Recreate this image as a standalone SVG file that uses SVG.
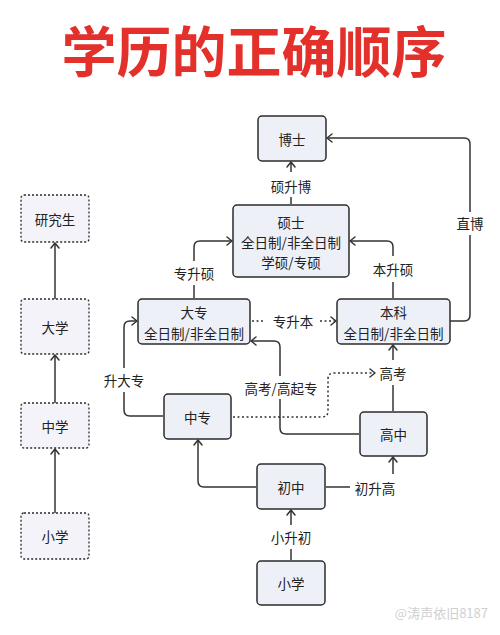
<svg xmlns="http://www.w3.org/2000/svg" width="500" height="635" viewBox="0 0 500 635">
<defs>
<marker id="arr" markerUnits="userSpaceOnUse" markerWidth="12" markerHeight="12" refX="7" refY="6" orient="auto">
<path d="M2,2 L7,6 L2,10" fill="none" stroke="#333" stroke-width="1.5" stroke-linecap="round" stroke-linejoin="round"/>
</marker>
<style>
.t{font-family:"Noto Sans CJK SC","Noto Sans",sans-serif;font-size:13.5px;fill:#222;text-anchor:middle;dominant-baseline:central}
.n{fill:#eef0f8;stroke:#2b2b2b;stroke-width:1.5}
.d{fill:#f3f3f9;stroke:#2b2b2b;stroke-width:1.3;stroke-dasharray:2 2}
.c{fill:none;stroke:#333;stroke-width:1.5}
.dot{fill:none;stroke:#333;stroke-width:1.5;stroke-dasharray:2 2.5}
</style>
</defs>
<rect width="500" height="635" fill="#fff"/>
<text x="254" y="48" font-family="'Noto Sans CJK SC',sans-serif" font-size="55" font-weight="bold" fill="#e3302a" text-anchor="middle" dominant-baseline="central">学历的正确顺序</text>

<g id="n-yjs"><rect class="d" x="21" y="195" width="68" height="47" rx="3"/><text class="t" x="55" y="218.5">研究生</text></g>
<g id="n-dx"><rect class="d" x="21" y="299" width="68" height="55" rx="3"/><text class="t" x="55" y="326.5">大学</text></g>
<g id="n-zx"><rect class="d" x="21" y="403" width="68" height="45" rx="3"/><text class="t" x="55" y="425.5">中学</text></g>
<g id="n-xx-l"><rect class="d" x="21" y="513" width="68" height="46" rx="3"/><text class="t" x="55" y="536">小学</text></g>

<g id="n-bs"><rect class="n" x="258" y="116" width="68" height="45" rx="4"/><text class="t" x="292" y="138.5">博士</text></g>
<g id="n-ss"><rect class="n" x="233" y="205" width="116" height="72" rx="4"/><text class="t" x="291" y="222">硕士</text><text class="t" x="291" y="242">全日制/非全日制</text><text class="t" x="291" y="262">学硕/专硕</text></g>
<g id="n-dz"><rect class="n" x="138" y="299" width="112" height="45" rx="4"/><text class="t" x="194" y="312">大专</text><text class="t" x="194" y="333">全日制/非全日制</text></g>
<g id="n-bk"><rect class="n" x="337" y="299" width="113" height="45" rx="4"/><text class="t" x="393.5" y="312">本科</text><text class="t" x="393.5" y="333">全日制/非全日制</text></g>
<g id="n-zz"><rect class="n" x="164" y="394" width="67" height="45" rx="4"/><text class="t" x="197.5" y="416.5">中专</text></g>
<g id="n-gz"><rect class="n" x="360" y="412" width="67" height="44" rx="4"/><text class="t" x="393.5" y="434">高中</text></g>
<g id="n-cz"><rect class="n" x="257" y="464" width="68" height="45" rx="4"/><text class="t" x="291" y="486.5">初中</text></g>
<g id="n-xx"><rect class="n" x="257" y="561" width="68" height="44" rx="4"/><text class="t" x="291" y="583">小学</text></g>

<g id="connectors">
<path class="c" d="M55,299 V243" marker-end="url(#arr)"/>
<path class="c" d="M55,403 V355" marker-end="url(#arr)"/>
<path class="c" d="M55,513 V449" marker-end="url(#arr)"/>

<path class="c" d="M291,204 V197"/>
<path class="c" d="M291,172 V162" marker-end="url(#arr)"/>
<text class="t" x="291" y="185.5">硕升博</text>

<path class="c" d="M450,321 H464 Q470,321 470,315 V235"/>
<path class="c" d="M470,212 V144 Q470,138 464,138 H327" marker-end="url(#arr)"/>
<text class="t" x="470" y="223">直博</text>

<path class="c" d="M393,298 V282"/>
<path class="c" d="M393,256 V247 Q393,241 387,241 H350" marker-end="url(#arr)"/>
<text class="t" x="393" y="269">本升硕</text>

<path class="c" d="M194,298 V285"/>
<path class="c" d="M194,261 V247 Q194,241 200,241 H232" marker-end="url(#arr)"/>
<text class="t" x="194" y="273">专升硕</text>

<path class="dot" d="M252,321 H265"/>
<path class="dot" d="M320,321 H336" marker-end="url(#arr)"/>
<text class="t" x="293" y="321">专升本</text>

<path class="c" d="M163,416 H130 Q124,416 124,410 V392"/>
<path class="c" d="M124,368 V327 Q124,321 130,321 H137" marker-end="url(#arr)"/>
<text class="t" x="124" y="380">升大专</text>

<path class="c" d="M359,434 H286 Q280,434 280,428 V399"/>
<path class="c" d="M280,376 V347 Q280,341 274,341 H251" marker-end="url(#arr)"/>
<text class="t" x="281" y="387.5">高考/高起专</text>

<path class="dot" d="M233,417 H322 Q328,417 328,411 V379 Q328,373 334,373 H375" marker-end="url(#arr)"/>
<text class="t" x="393" y="373">高考</text>
<path class="c" d="M393,411 V385"/>
<path class="c" d="M393,360 V345" marker-end="url(#arr)"/>

<path class="c" d="M256,487 H204 Q198,487 198,481 V440" marker-end="url(#arr)"/>

<path class="c" d="M326,487 H350"/>
<text class="t" x="375" y="487.5">初升高</text>
<path class="c" d="M393,474 V457" marker-end="url(#arr)"/>

<path class="c" d="M291,560 V549"/>
<path class="c" d="M291,525 V510" marker-end="url(#arr)"/>
<text class="t" x="291" y="537">小升初</text>
</g>
<text x="488" y="612" font-family="'Noto Sans CJK SC',sans-serif" font-size="13" fill="#d0d0d0" text-anchor="end" dominant-baseline="central">@涛声依旧8187</text>
</svg>
